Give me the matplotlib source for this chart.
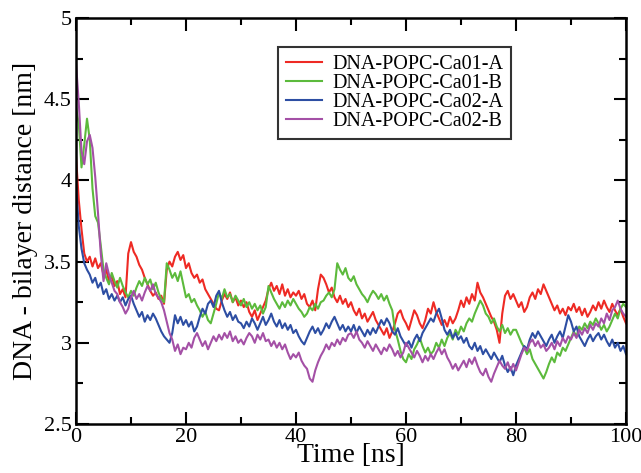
import numpy as np
import matplotlib
matplotlib.use("Agg")
import matplotlib.pyplot as plt
from matplotlib.ticker import MultipleLocator

# ---------------------------------------------------------------------------
# Data (one value every 0.5 ns, 0..100 ns)
# ---------------------------------------------------------------------------
time_ns = np.linspace(0, 100, 201)

ca01_a = [
    4.15, 3.88, 3.70, 3.55, 3.50, 3.53, 3.47, 3.52, 3.46, 3.49,
    3.42, 3.45, 3.38, 3.41, 3.35, 3.38, 3.30, 3.33, 3.28, 3.55,
    3.62, 3.56, 3.53, 3.48, 3.45, 3.40, 3.36, 3.32, 3.29, 3.31,
    3.27, 3.29, 3.24, 3.45, 3.50, 3.47, 3.53, 3.56, 3.51, 3.54,
    3.46, 3.49, 3.43, 3.40, 3.42, 3.37, 3.39, 3.33, 3.30, 3.27,
    3.24, 3.21, 3.20, 3.26, 3.30, 3.27, 3.31, 3.25, 3.28, 3.23,
    3.26, 3.22, 3.25, 3.19, 3.16, 3.20, 3.14, 3.18, 3.22, 3.26,
    3.33, 3.37, 3.32, 3.35, 3.30, 3.36, 3.29, 3.33, 3.28, 3.31,
    3.29, 3.32, 3.27, 3.30, 3.24, 3.22, 3.26, 3.20, 3.33, 3.42,
    3.40, 3.36, 3.31, 3.34, 3.28, 3.25, 3.29, 3.24, 3.27, 3.22,
    3.25, 3.20, 3.17, 3.21, 3.15, 3.18, 3.13, 3.16, 3.19, 3.14,
    3.11, 3.08, 3.05, 3.09, 3.03, 3.07, 3.12, 3.18, 3.20, 3.15,
    3.12, 3.08, 3.14, 3.20, 3.17, 3.12, 3.09, 3.14, 3.21, 3.18,
    3.25, 3.19, 3.15, 3.11, 3.14, 3.10, 3.16, 3.12, 3.15, 3.20,
    3.26, 3.22, 3.28, 3.24, 3.30, 3.26, 3.37, 3.31, 3.28, 3.24,
    3.20, 3.16, 3.13, 3.08, 3.00, 3.18, 3.29, 3.32, 3.27, 3.30,
    3.26, 3.22, 3.25, 3.19, 3.22, 3.28, 3.31, 3.27, 3.33, 3.30,
    3.36, 3.32, 3.28, 3.24, 3.20, 3.23, 3.18, 3.21, 3.17, 3.22,
    3.20, 3.24, 3.19, 3.22, 3.17, 3.21, 3.16, 3.19, 3.23, 3.20,
    3.25, 3.21, 3.26, 3.22, 3.19, 3.24, 3.20, 3.17, 3.21, 3.16,
    3.12,
]

ca01_b = [
    4.45, 4.35, 4.08, 4.22, 4.38, 4.25, 3.95, 3.78, 3.74, 3.60,
    3.45, 3.40, 3.36, 3.43, 3.38, 3.34, 3.40, 3.35, 3.31, 3.28,
    3.32, 3.29, 3.34, 3.38, 3.35, 3.40, 3.36, 3.39, 3.33, 3.37,
    3.31, 3.27, 3.25, 3.49, 3.45, 3.40, 3.43, 3.38, 3.44, 3.36,
    3.28, 3.30, 3.25, 3.27, 3.23, 3.20, 3.16, 3.19, 3.14, 3.12,
    3.18, 3.24, 3.31, 3.27, 3.33, 3.28, 3.30, 3.25, 3.29, 3.26,
    3.23, 3.27, 3.22, 3.25, 3.21, 3.24, 3.20, 3.23, 3.18, 3.22,
    3.35, 3.31, 3.27, 3.24, 3.21, 3.25, 3.22, 3.26, 3.23, 3.27,
    3.24, 3.21, 3.19, 3.16, 3.18, 3.22, 3.20, 3.24, 3.21, 3.25,
    3.26, 3.29, 3.31, 3.28, 3.33, 3.49, 3.45, 3.42, 3.46, 3.40,
    3.38, 3.41, 3.36, 3.33, 3.30, 3.28, 3.25, 3.29, 3.32, 3.30,
    3.27, 3.30, 3.26, 3.29, 3.24, 3.20, 3.08, 3.02, 2.95, 2.90,
    2.88, 2.93, 2.90, 2.96, 2.99, 3.03, 2.98, 2.94, 2.97, 2.93,
    2.95, 3.00, 2.97, 3.02, 2.98, 3.03, 3.06, 3.02, 3.08, 3.05,
    3.10, 3.07, 3.12, 3.15, 3.13, 3.18, 3.22, 3.26, 3.23, 3.18,
    3.16, 3.12, 3.15, 3.10, 3.07, 3.11, 3.06, 3.09, 3.05, 3.08,
    3.08, 3.04, 3.00, 2.97, 2.93, 2.96, 2.90, 2.87, 2.84, 2.81,
    2.78, 2.82, 2.87, 2.91, 2.88, 2.94, 2.92, 2.97, 2.95, 2.99,
    3.03, 3.07, 3.04, 3.10, 3.08, 3.12, 3.09, 3.13, 3.11, 3.15,
    3.12, 3.08, 3.11, 3.07, 3.10, 3.14, 3.18, 3.15, 3.21, 3.24,
    3.22,
]

ca02_a = [
    3.98, 3.72, 3.58, 3.49, 3.45, 3.42, 3.37, 3.40, 3.34, 3.37,
    3.30, 3.33, 3.27, 3.30, 3.26, 3.29, 3.25, 3.28, 3.23, 3.27,
    3.29, 3.24, 3.20, 3.16, 3.19, 3.13, 3.17, 3.14, 3.18, 3.15,
    3.11, 3.07, 3.04, 3.02, 3.00, 3.06, 3.17, 3.12, 3.16, 3.11,
    3.14, 3.10, 3.13, 3.07, 3.10, 3.16, 3.21, 3.18, 3.24, 3.26,
    3.22, 3.29, 3.32, 3.25, 3.20, 3.16, 3.19, 3.14, 3.17, 3.13,
    3.12, 3.09, 3.13, 3.10, 3.15, 3.12, 3.08, 3.12, 3.16, 3.11,
    3.14, 3.18, 3.13, 3.10, 3.14, 3.09, 3.12, 3.08, 3.11, 3.06,
    3.08, 3.04, 3.01, 2.99, 3.03, 3.07, 3.10, 3.06, 3.09, 3.05,
    3.08, 3.12, 3.09, 3.13, 3.16, 3.12, 3.08, 3.11, 3.07, 3.10,
    3.07, 3.11, 3.06, 3.10, 3.07, 3.04, 3.08, 3.05, 3.09, 3.06,
    3.10, 3.14, 3.11, 3.15, 3.12, 3.07, 3.05, 3.09, 3.04, 3.01,
    2.98, 3.01, 2.97, 3.02, 3.05, 3.01, 3.06, 3.09, 3.12, 3.15,
    3.13, 3.18, 3.21, 3.15, 3.08, 3.05, 3.08, 3.03, 3.06, 3.02,
    3.04, 3.00, 3.03, 2.98, 2.96, 3.00, 2.95, 2.98, 2.93, 2.96,
    2.93, 2.90, 2.94, 2.91, 2.88, 2.92, 2.86, 2.82, 2.85, 2.80,
    2.86, 2.90, 2.94, 2.98, 2.96, 3.02, 3.06, 3.03, 3.07, 3.04,
    3.01, 2.98, 3.02, 3.05, 3.00, 3.04, 3.07, 3.03, 3.10, 3.17,
    3.13, 3.07, 3.10, 3.04, 3.01, 2.98, 3.02, 3.05, 3.01, 3.04,
    3.06, 3.02, 3.05, 3.01, 2.98, 3.02, 2.97, 3.00, 2.95, 2.98,
    2.93,
]

ca02_b = [
    4.72, 4.48, 4.18, 4.10, 4.24, 4.28, 4.20, 4.02, 3.80, 3.55,
    3.38, 3.49, 3.42, 3.37, 3.32, 3.30, 3.25, 3.22, 3.18, 3.21,
    3.28, 3.32, 3.27, 3.30, 3.26, 3.31, 3.35, 3.32, 3.36, 3.30,
    3.28, 3.25, 3.20, 3.13, 3.06, 3.02, 2.95, 2.99, 2.93, 2.97,
    2.96, 3.00, 2.97, 3.03, 3.06, 3.02, 2.98, 3.01, 2.96, 3.00,
    3.04, 3.01, 3.05, 3.02, 3.06, 3.03, 3.07, 3.01, 3.04, 3.00,
    3.02, 2.99, 3.03, 3.06, 3.04, 3.00, 3.05, 3.02, 3.06, 3.01,
    3.02, 2.98, 3.01, 2.97, 3.00, 2.96, 2.99, 2.94, 2.90, 2.93,
    2.91, 2.94, 2.89, 2.86, 2.84, 2.78, 2.76, 2.83, 2.88, 2.92,
    2.95, 2.99, 2.96, 3.00, 2.98, 3.02, 2.99, 3.03, 3.01, 3.05,
    3.06, 3.03, 3.07, 3.02, 3.00, 2.97, 3.01, 2.98, 2.95, 2.99,
    2.96, 2.93, 2.97, 2.95, 2.99, 2.96, 2.92, 2.95, 2.91, 2.94,
    3.00, 2.97, 2.94, 2.91, 2.95, 2.92, 2.88, 2.92, 2.89, 2.93,
    2.90, 2.94, 2.97, 2.93, 2.96, 2.91, 2.88, 2.84, 2.87, 2.83,
    2.86, 2.89, 2.85, 2.90, 2.87, 2.91, 2.86, 2.82, 2.80, 2.84,
    2.79, 2.76, 2.81, 2.85, 2.89, 2.86, 2.84, 2.88, 2.83, 2.87,
    2.83, 2.88, 2.93, 2.97, 2.95, 3.00, 3.02, 2.98, 3.01, 2.97,
    2.99, 2.95, 2.97, 3.00, 2.96, 3.01, 2.98, 3.03, 3.00, 3.04,
    3.02, 3.06, 3.03, 3.08, 3.05, 3.09, 3.06, 3.11, 3.08, 3.12,
    3.10, 3.15, 3.12, 3.18, 3.14, 3.20, 3.22, 3.26, 3.21, 3.18,
    3.16,
]

labels = ["DNA-POPC-Ca01-A", "DNA-POPC-Ca01-B",
          "DNA-POPC-Ca02-A", "DNA-POPC-Ca02-B"]
colors = ["#ee2a24", "#5cba3c", "#2d4ea3", "#a450a6"]
series = [ca01_a, ca01_b, ca02_a, ca02_b]

plt.rcParams['font.family'] = ['Liberation Serif', 'DejaVu Serif']

fig = plt.figure(figsize=(6.41, 4.73), dpi=100)
ax = fig.add_axes([76 / 641, 1 - 424 / 473, 550 / 641, 406 / 473])

for ys, lab, col in zip(series, labels, colors):
    ax.plot(time_ns, ys, color=col, lw=1.5, label=lab)

ax.set_xlim(0, 100)
ax.set_ylim(2.5, 5)
ax.xaxis.set_major_locator(MultipleLocator(20))
ax.xaxis.set_minor_locator(MultipleLocator(10))
ax.yaxis.set_minor_locator(MultipleLocator(0.25))
ax.set_yticks([2.5, 3, 3.5, 4, 4.5, 5])
ax.set_yticklabels(["2.5", "3", "3.5", "4", "4.5", "5"])
ax.tick_params(which='both', direction='in', top=True, right=True,
               labelsize=16, width=1.5, pad=3)
ax.tick_params(which='major', length=9)
ax.tick_params(which='minor', length=5)
for sp in ax.spines.values():
    sp.set_linewidth(1.8)

ax.set_xlabel("Time [ns]", fontsize=20, labelpad=-3)
ax.set_ylabel("DNA - bilayer distance [nm]", fontsize=20, labelpad=4)

leg = ax.legend(loc='upper left', bbox_to_anchor=(278 / 641, 1 - 47 / 473),
                bbox_transform=fig.transFigure, fontsize=14.5,
                frameon=True, fancybox=False, edgecolor='black',
                handlelength=1.8, handletextpad=0.5, labelspacing=0.0,
                borderpad=0.4, borderaxespad=0)
leg.get_frame().set_linewidth(1.5)

fig.savefig("out.png", dpi=100)
